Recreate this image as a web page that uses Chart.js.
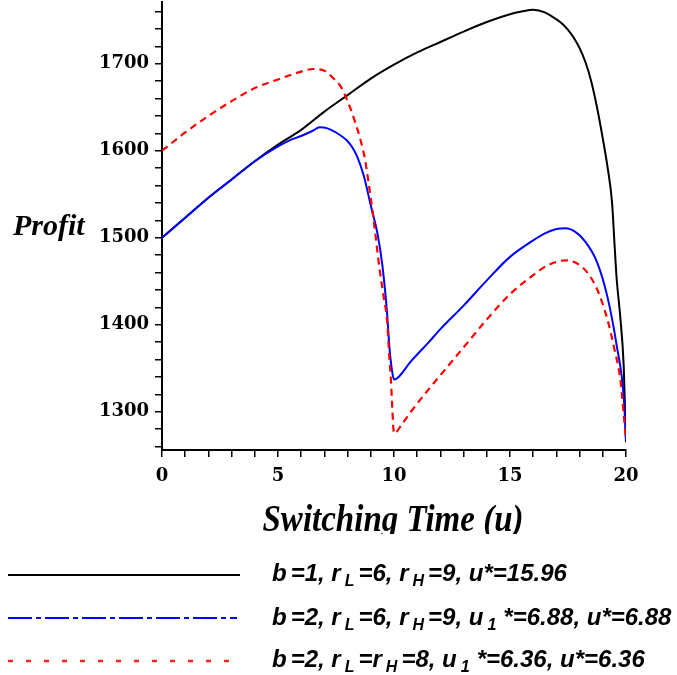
<!DOCTYPE html>
<html>
<head>
<meta charset="utf-8">
<script src="https://cdn.jsdelivr.net/npm/chart.js@4/dist/chart.umd.min.js"></script>
<style>
html,body{margin:0;padding:0;background:#fff;}
#wrap{width:677px;height:675px;position:relative;}
</style>
</head>
<body>
<div id="wrap"><canvas id="c"></canvas></div>
<script>
// ---- data ----
const uBlack = [0,1,2,3,4,5,6,7,8,9,10,11,12,13,14,15,15.5,16,16.5,17,17.25,17.5,17.75,18,18.25,18.5,18.75,19,19.2,19.4,19.5,19.6,19.75,19.9,19.95,20];
const profitBlack = [1500,1523,1546,1567,1588,1607,1624,1645,1664,1683,1699,1713,1725,1737,1748,1757,1760,1762,1759,1751,1746,1739,1730,1718,1702,1680,1650,1614,1582,1540,1495,1452,1410,1353,1310,1265];

const uBlue = [0,1,2,3,4,5,5.5,6,6.5,6.8,7.1,7.5,8,8.2,8.4,8.7,9,9.3,9.5,9.7,9.8,9.9,10,10.2,10.7,11.5,12,13,14,15,16,16.5,17,17.4,17.8,18.2,18.75,19.2,19.6,19.9,20];
const profitBlue = [1500,1523,1546,1567,1588,1605,1612,1617,1623,1627,1626,1621,1611,1604,1594,1571,1537,1503,1468,1414,1375,1350,1337,1340,1357,1380,1395,1422,1451,1478,1497,1505,1510,1511,1507,1497,1472,1432,1376,1318,1268];

const uRed = [0,1,2,3,4,5,6,6.5,7,7.4,7.7,8,8.3,8.55,8.75,8.9,9.1,9.4,9.55,9.7,9.8,9.87,9.93,10,10.35,10.7,11.5,12,13,14,15,16,16.6,17.4,18.2,18.75,19.2,19.5,19.75,20];
const profitRed = [1600,1621,1640,1657,1672,1682,1691,1694,1692,1683,1674,1657,1635,1613,1590,1564,1525,1460,1433,1405,1362,1335,1302,1275,1286,1299,1326,1342,1374,1406,1435,1457,1468,1474,1464,1441,1406,1372,1338,1268];

const xTicks = [0,1,2,3,4,5,6,7,8,9,10,11,12,13,14,15,16,17,18,19,20];
const xTickLabels = [0,5,10,15,20];
const yTicks = [1260,1280,1300,1320,1340,1360,1380,1400,1420,1440,1460,1480,1500,1520,1540,1560,1580,1600,1620,1640,1660,1680,1700,1720,1740,1760];
const yTickLabels = [1300,1400,1500,1600,1700];

const xTitle = 'Switching Time (u)';
const yTitle = 'Profit';
// legend texts; pieces starting with "_" are subscripts
const legendBlack = ['b','=1, r','_L','=6, r','_H','=9, u*=15.96'];
const legendBlue  = ['b','=2, r','_L','=6, r','_H','=9, u','_1','*=6.88, u*=6.88'];
const legendRed   = ['b','=2, r','_L','=r','_H','=8, u','_1','*=6.36, u*=6.36'];

const toXY = (xs, ys) => xs.map((x, i) => ({x: x, y: ys[i]}));

const annot = {
  id: 'annot',
  afterDraw(chart) {
    const ctx = chart.ctx;
    ctx.save();
    ctx.fillStyle = '#000';
    ctx.textBaseline = 'alphabetic';
    // y title
    ctx.textAlign = 'left';
    ctx.font = 'bold italic 30px "Liberation Serif"';
    ctx.fillText(yTitle, 13, 235);
    // x title, clipped at the bottom as in the reference
    ctx.save();
    ctx.beginPath();
    ctx.rect(0, 492, 677, 42);
    ctx.clip();
    ctx.translate(393, 531);
    ctx.scale(1, 1.15);
    ctx.textAlign = 'center';
    ctx.font = 'bold italic 33px "Liberation Serif"';
    ctx.fillText(xTitle, 0, 0);
    ctx.restore();

    // legend
    const rows = [
      {pieces: legendBlack, color: '#000000', dash: [], ly: 575, x2: 240, ty: 581, lw: 2},
      {pieces: legendBlue,  color: '#0000ff', dash: [24,4,5,4], ly: 618, x2: 237, ty: 625, lw: 2},
      {pieces: legendRed,   color: '#ff2020', dash: [5,13], ly: 661, x2: 232, ty: 667, lw: 2.5}
    ];
    rows.forEach(r => {
      ctx.save();
      ctx.strokeStyle = r.color;
      ctx.lineWidth = r.lw;
      ctx.setLineDash(r.dash);
      ctx.beginPath();
      ctx.moveTo(8, r.ly);
      ctx.lineTo(r.x2, r.ly);
      ctx.stroke();
      ctx.restore();
      let x = 272;
      ctx.textAlign = 'left';
      r.pieces.forEach((p, i) => {
        if (p.startsWith('_')) {
          ctx.font = 'bold italic 16px "Liberation Sans"';
          const t = p.slice(1);
          ctx.fillText(t, x, r.ty + 5);
          x += ctx.measureText(t).width + (t === '1' ? 7 : 4);
        } else {
          ctx.font = 'bold italic 24px "Liberation Sans"';
          ctx.fillText(p, x, r.ty);
          x += ctx.measureText(p).width + 4;
        }
      });
    });
    ctx.restore();
  }
};

const tickFont = {family: 'DejaVu Serif', weight: 'bold', size: 18};

new Chart(document.getElementById('c'), {
  type: 'line',
  data: {
    datasets: [
      {label: 'b=1', data: toXY(uBlack, profitBlack), borderColor: '#000000', borderWidth: 2, pointRadius: 0, cubicInterpolationMode: 'monotone', fill: false, order: 3},
      {label: 'b=2 (a)', data: toXY(uBlue, profitBlue), borderColor: '#0000ff', borderWidth: 2, pointRadius: 0, cubicInterpolationMode: 'monotone', fill: false, order: 2},
      {label: 'b=2 (b)', data: toXY(uRed, profitRed), borderColor: '#ff0000', borderWidth: 2.2, borderDash: [7,5], pointRadius: 0, cubicInterpolationMode: 'monotone', fill: false, order: 1}
    ]
  },
  options: {
    responsive: true,
    maintainAspectRatio: false,
    animation: false,
    events: [],
    layout: {padding: {top: 2, right: 51, left: 0, bottom: 0}},
    plugins: {legend: {display: false}, tooltip: {enabled: false}, title: {display: false}},
    scales: {
      x: {
        type: 'linear', min: 0, max: 20,
        afterBuildTicks: s => { s.ticks = xTicks.map(v => ({value: v})); },
        afterFit: s => { s.height = 225; s.paddingLeft = 0; s.paddingRight = 0; },
        border: {display: true, color: '#000', width: 2},
        grid: {drawOnChartArea: false, drawTicks: true, tickLength: 7, color: '#000', lineWidth: 1.5},
        ticks: {autoSkip: false, maxRotation: 0, padding: 9, color: '#000', font: tickFont,
          callback: v => xTickLabels.includes(v) ? String(v) : ''}
      },
      y: {
        type: 'linear', min: 1256, max: 1771,
        afterBuildTicks: s => { s.ticks = yTicks.map(v => ({value: v})); },
        afterFit: s => { s.width = 162; s.paddingTop = 0; s.paddingBottom = 0; },
        border: {display: true, color: '#000', width: 2},
        grid: {drawOnChartArea: false, drawTicks: true, tickLength: 7, color: '#000', lineWidth: 1.5},
        ticks: {autoSkip: false, padding: 6, color: '#000', font: tickFont,
          callback: v => yTickLabels.includes(v) ? String(v) : ''}
      }
    }
  },
  plugins: [annot]
});
</script>
</body>
</html>
